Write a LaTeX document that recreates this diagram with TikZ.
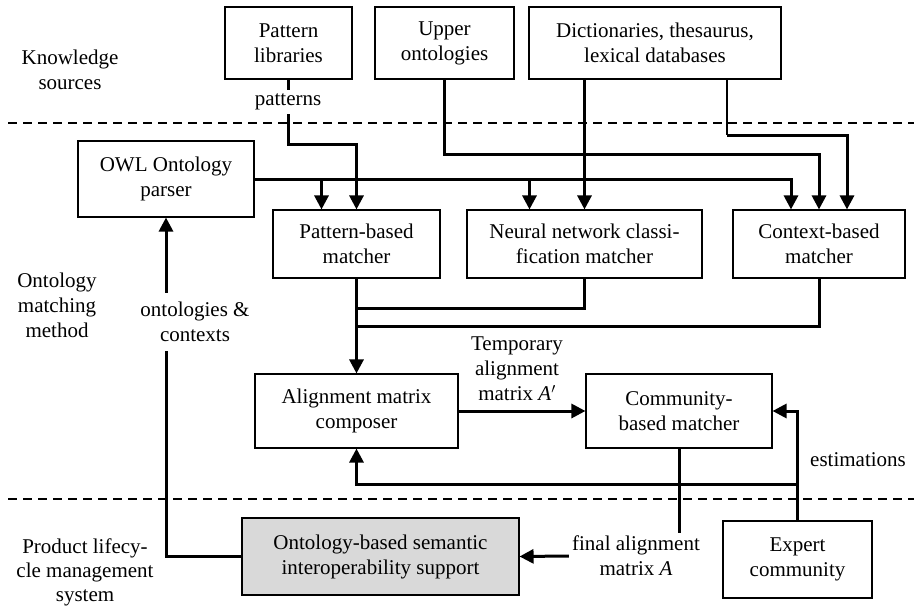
\documentclass[tikz,border=0pt]{standalone}
\usepackage{fontspec}
\setmainfont{Liberation Serif}
\usetikzlibrary{arrows.meta}
\begin{document}
\begin{tikzpicture}[x=1pt,y=-1pt,
  every node/.style={font=\fontsize{21}{25}\selectfont},
  box/.style={draw,line width=1.1pt,align=center,inner sep=0pt,fill=white},
  lbl/.style={align=center,inner sep=3pt},
  wlbl/.style={align=center,fill=white,inner xsep=3pt,inner ysep=4pt},
  conn/.style={line width=3pt},
  thinconn/.style={line width=1.2pt},
  arr/.style={line width=3pt,-{Triangle[length=14pt,width=14pt]}},
  dashline/.style={line width=1.2pt,dash pattern=on 9pt off 6pt}]
\useasboundingbox (0,0) rectangle (914,608);

% dashed separators
\coordinate (d1a) at (8,123); \coordinate (d1b) at (914,123);
\coordinate (d2a) at (8,499); \coordinate (d2b) at (914,499);
\draw[dashline] (d1a) -- (d1b);
\draw[dashline] (d2a) -- (d2b);

% side labels
\node[lbl] (ks) at (70,70) {Knowledge\\sources};
\node[lbl] (om) at (57,305) {Ontology\\matching\\method};
\node[lbl,font=\fontsize{21}{24}\selectfont] (pl) at (85,572) {Product lifecy-\\cle management\\system};

% boxes
\node[box,minimum width=127pt,minimum height=72pt] (pat) at (288.5,43) {Pattern\\libraries};
\node[box,minimum width=139pt,minimum height=72pt] (uo) at (444.5,43) {Upper\\ontologies};
\node[box,minimum width=252pt,minimum height=72pt] (dict) at (655,43) {Dictionaries, thesaurus,\\lexical databases};
\node[box,minimum width=176pt,minimum height=76pt] (owl) at (166,179) {OWL Ontology\\parser};
\node[box,minimum width=167pt,minimum height=68pt] (pbm) at (356.5,244) {Pattern-based\\matcher};
\node[box,minimum width=235pt,minimum height=68pt] (nn) at (584.5,244) {Neural network classi-\\fication matcher};
\node[box,minimum width=172pt,minimum height=68pt] (cbm) at (819,244) {Context-based\\matcher};
\node[box,minimum width=203pt,minimum height=74pt] (amc) at (356.5,411) {Alignment matrix\\composer};
\node[box,minimum width=186pt,minimum height=74pt] (com) at (679,411) {Community-\\based matcher};
\node[box,fill=black!15,minimum width=277pt,minimum height=77pt] (obs) at (380.5,556.5) {Ontology-based semantic\\interoperability support};
\node[box,minimum width=149pt,minimum height=77pt] (exp) at (797.5,559.5) {Expert\\community};

% knowledge sources to matchers
\draw[arr] (pat.south) -- (pat.south |- 0,144) -| (pbm.north);
\node[wlbl] (patl) at (288,102) {patterns};

\draw[arr] (owl.east) -| ([xshift=-28pt]cbm.north);
\draw[arr] ([xshift=-35pt]pbm.north |- owl.east) -- ([xshift=-35pt]pbm.north);
\draw[arr] ([xshift=-55pt]nn.north |- owl.east) -- ([xshift=-55pt]nn.north);

\draw[arr] (uo.south) -- (uo.south |- 0,154) -| (cbm.north);
\draw[arr] (nn.north |- dict.south) -- (nn.north);
\coordinate (dbend) at ([xshift=72pt]dict.south |- 0,135);
\draw[thinconn] ([xshift=72pt]dict.south) -- (dbend);
\draw[arr] (dbend) -| ([xshift=28pt]cbm.north);

% matchers to composer
\draw[arr] (pbm.south) -- (amc.north);
\draw[conn] (nn.south) -- (nn.south |- 0,308) -- (pbm.south |- 0,308);
\draw[conn] (cbm.south) -- (cbm.south |- 0,326) -- (pbm.south |- 0,326);

% composer to community
\draw[arr] (amc.east) -- (com.west);
\node[lbl] (tmp) at (517,369) {Temporary\\alignment\\matrix \textit{A}$'$};

% final alignment
\node[lbl] (fin) at (636,556) {final alignment\\matrix \textit{A}};
\draw[conn] (com.south) -- (com.south |- fin.north);
\draw[arr] (fin.west) -- (obs.east);

% expert community
\draw[arr] (exp.north) |- (com.east);
\draw[arr] (exp.north |- 0,484) -| (amc.south);
\node[lbl] (est) at (858,460) {estimations};

% feedback to parser
\draw[arr] (obs.west) -| (owl.south);
\node[wlbl,inner ysep=9pt] (octx) at (195,322) {ontologies \&\\contexts};
\end{tikzpicture}
\end{document}
